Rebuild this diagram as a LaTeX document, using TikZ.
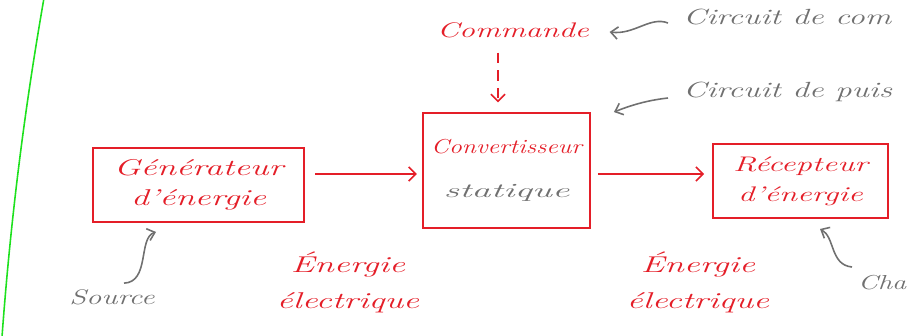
\documentclass[tikz,border=0pt]{standalone}
\usetikzlibrary{arrows.meta}
\definecolor{penred}{RGB}{228,30,40}
\definecolor{pengray}{RGB}{112,112,112}
\definecolor{margingreen}{RGB}{30,225,30}
\newcommand{\hw}[2][1.55]{\scalebox{#1}[1]{#2}}
\tikzset{
  bloc/.style={draw=penred, line width=1.1pt, align=center, text=penred, font=\fontsize{13}{17}\selectfont\itshape},
  redlabel/.style={text=penred, align=center, font=\fontsize{13}{20.5}\selectfont\itshape},
  graylabel/.style={text=pengray, font=\fontsize{12.5}{14}\selectfont\itshape},
  flow/.style={draw=penred, line width=0.9pt, -{Straight Barb[length=4pt,width=8pt]}},
  note/.style={draw=pengray, line width=0.9pt, -{Straight Barb[length=4pt,width=7pt]}},
}
\begin{document}
\begin{tikzpicture}[x=0.02cm,y=-0.02cm]
\useasboundingbox (0,0) rectangle (911,335);
\draw[margingreen, line width=0.9pt] (44,-2) .. controls (28,90) and (12,200) .. (2,337); % margin
% blocks
\node[bloc, minimum width=4.22cm, minimum height=1.48cm] (gen) at (198.5,185) {\hw{Générateur}\\\hw{d'énergie}};
\node[bloc, minimum width=3.34cm, minimum height=2.3cm, font=\fontsize{11.5}{25}\selectfont\itshape] (conv) at (506.5,170.5) {\hw[1.27]{Convertisseur}\\\textcolor{pengray}{\hw[1.9]{statique}}};
\node[bloc, minimum width=3.5cm, minimum height=1.48cm, font=\fontsize{12}{17}\selectfont\itshape] (rec) at (800.5,181) {\hw{Récepteur}\\\hw{d'énergie}};
\node[redlabel, font=\fontsize{12}{14}\selectfont\itshape] (cmd) at (513,30) {\hw[1.5]{Commande}};
% labels
\node[redlabel] (e1) at (348,282) {\hw{Énergie}\\\hw{électrique}};
\node[redlabel] (e2) at (698,282) {\hw{Énergie}\\\hw{électrique}};
\node[graylabel, anchor=west] (cc) at (677,17) {\hw[1.5]{Circuit de com}};
\node[graylabel, anchor=west] (cp) at (677,92) {\hw[1.5]{Circuit de puis}};
\node[graylabel, font=\fontsize{12}{14}\selectfont\itshape] (src) at (112,297) {\hw[1.45]{Source}};
\node[graylabel, anchor=west, font=\fontsize{11.5}{13}\selectfont\itshape] (cha) at (852,283) {\hw[1.4]{Cha}};
% power flow
\draw[flow, shorten <=6pt, shorten >=3pt] ([yshift=0.22cm]gen.east) -- ([yshift=0.22cm]gen.east -| conv.west);
\draw[flow, shorten <=4pt, shorten >=4.5pt] ([yshift=-0.07cm]conv.east) -- ([yshift=-0.07cm]conv.east -| rec.west);
\draw[flow, dash pattern=on 6pt off 4pt, shorten <=5pt, shorten >=5.5pt] ([xshift=-0.3cm]cmd.south) -- ([xshift=-0.3cm]cmd.south |- conv.north);
% notes
\draw[note] ([xshift=-0.18cm,yshift=-0.12cm]cc.west) .. controls +(-18,-7) and +(25,3) .. ([xshift=0.29cm,yshift=-0.04cm]cmd.east);
\draw[note] ([xshift=-0.18cm,yshift=-0.12cm]cp.west) .. controls +(-18,2) and +(20,-8) .. ([xshift=0.46cm,yshift=0cm]conv.north east);
\draw[note] ([xshift=0.24cm]src.north) .. controls +(26,-1) and +(-18,6) .. ([xshift=-0.85cm,yshift=-0.18cm]gen.south);
\draw[note] ([xshift=-0.0cm,yshift=0.32cm]cha.west) .. controls +(-22,-2) and +(15,8) .. ([xshift=0.39cm,yshift=-0.2cm]rec.south);
\end{tikzpicture}
\end{document}
